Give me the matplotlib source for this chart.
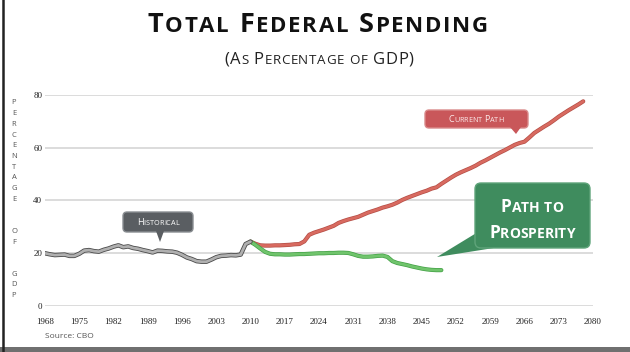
import matplotlib
matplotlib.use("Agg")
import matplotlib.pyplot as plt
from matplotlib import patheffects as pe
from matplotlib.lines import Line2D
from matplotlib.patches import FancyBboxPatch, Polygon, Rectangle
from matplotlib.transforms import Affine2D

# Values (% of GDP)
hist_years = list(range(1968, 2011))
hist_values = [20.0, 19.6, 19.3, 19.4, 19.5, 19.0, 19.0, 19.8, 21.0, 21.2,
               20.8, 20.6, 21.3, 21.8, 22.5, 23.0, 22.3, 22.6, 22.0, 21.7,
               21.2, 20.8, 20.3, 21.0, 20.9, 20.7, 20.6, 20.2, 19.4, 18.4,
               17.8, 17.0, 16.8, 16.8, 17.6, 18.5, 19.0, 19.1, 19.3, 19.2,
               19.5, 23.5, 24.4]

current_years = list(range(2010, 2079))
current_values = [24.4, 23.6, 23.0, 22.9, 22.9, 23.0, 23.0, 23.1, 23.2, 23.4,
                  23.5, 24.5, 27.0, 27.8, 28.4, 29.0, 29.7, 30.4, 31.5, 32.2,
                  32.8, 33.3, 33.8, 34.6, 35.4, 36.0, 36.6, 37.3, 37.8, 38.4,
                  39.2, 40.2, 41.0, 41.7, 42.4, 43.1, 43.7, 44.5, 45.0, 46.3,
                  47.5, 48.7, 49.8, 50.7, 51.5, 52.3, 53.2, 54.3, 55.2, 56.2,
                  57.2, 58.2, 59.1, 60.1, 61.1, 61.8, 62.3, 63.9, 65.6, 66.8,
                  68.0, 69.1, 70.4, 71.8, 73.0, 74.2, 75.3, 76.4, 77.6]

prosperity_years = list(range(2010, 2050))
prosperity_values = [24.4, 23.2, 21.8, 20.5, 19.8, 19.6, 19.6, 19.5, 19.5, 19.6,
                     19.7, 19.7, 19.8, 19.9, 20.0, 20.0, 20.1, 20.1, 20.2, 20.2,
                     20.1, 19.6, 19.0, 18.7, 18.7, 18.8, 19.0, 19.1, 18.6, 17.0,
                     16.3, 15.9, 15.5, 15.0, 14.6, 14.2, 13.9, 13.7, 13.6, 13.6]

x_ticks = list(range(1968, 2081, 7))
y_ticks = [0, 20, 40, 60, 80]

W, H = 630, 352
FONT = "Open Sans"

fig = plt.figure(figsize=(W / 100, H / 100), dpi=100)
fig.patch.set_facecolor("white")
# pixel coordinates measured from the top-left corner
PX = Affine2D().scale(1, -1).translate(0, H)
renderer = fig.canvas.get_renderer()


def text_width(t, size, weight):
    tmp = fig.text(0, 0, t + "I", fontsize=size, fontfamily=FONT, fontweight=weight)
    w1 = tmp.get_window_extent(renderer).width
    tmp.set_text("I")
    w0 = tmp.get_window_extent(renderer).width
    tmp.remove()
    return w1 - w0


def small_caps(x, y, s, size, color, weight="normal", ratio=0.8, tracking=0.0):
    """draw s in small caps, centred on x, with baseline at y (pixels)"""
    pieces = []
    for ch in s:
        sz = size * ratio if ch.islower() else size
        pieces.append((ch.upper(), sz, text_width(ch.upper(), sz, weight) + tracking))
    start = x - (sum(p[2] for p in pieces) - tracking) / 2
    for t, sz, w in pieces:
        if t != " ":
            fig.text(start, y, t, transform=PX, fontsize=sz, fontfamily=FONT,
                     fontweight=weight, color=color, ha="left", va="baseline")
        start += w


# frame of the screenshot
fig.add_artist(Line2D([2.5, 2.5], [0, H], transform=PX, color="#222222", lw=1.8))
fig.add_artist(Rectangle((0, 347), W, 5, transform=PX, color="#707070", lw=0))

ax = fig.add_axes([45 / W, 1 - 306 / H, (593 - 45) / W, (306 - 95) / H])
ax.set_xlim(1968, 2080)
ax.set_ylim(0, 80)
for s in ax.spines.values():
    s.set_visible(False)
ax.set_yticks(y_ticks)
ax.set_xticks(x_ticks)
ax.grid(axis="y", color="#d6d6d6", lw=1.2)
ax.set_axisbelow(True)
ax.tick_params(length=0, labelsize=6.5, labelcolor="#222222")
ax.tick_params(axis="x", pad=9)
ax.tick_params(axis="y", pad=2)
for lab in ax.get_xticklabels() + ax.get_yticklabels():
    lab.set_fontfamily("Liberation Serif")

# lines
ax.plot(current_years, current_values, color="#d86a60", lw=2.0, solid_capstyle="round",
        path_effects=[pe.Stroke(linewidth=3.0, foreground="#b44e46"), pe.Normal()])
ax.plot(prosperity_years, prosperity_values, color="#70c46c", lw=2.0, solid_capstyle="round",
        path_effects=[pe.Stroke(linewidth=3.0, foreground="#43a046"), pe.Normal()])
ax.plot(hist_years, hist_values, color="#b0b0b0", lw=2.0, solid_capstyle="round",
        path_effects=[pe.Stroke(linewidth=3.2, foreground="#4a4a4a"), pe.Normal()])

# titles
small_caps(318, 31.5, "Total Federal Spending", 19.5, "#111111", weight="bold",
           ratio=0.82, tracking=1.7)
small_caps(319, 64, "(As Percentage of GDP)", 12, "#222222", tracking=0.6)

# vertical axis label, one letter per line
ylab = "PERCENTAGE  OF  GDP"
for i, ch in enumerate(ylab):
    if ch != " ":
        fig.text(14, 103 + i * 10.7, ch, transform=PX, fontsize=5.5, fontfamily=FONT,
                 color="#555555", ha="center", va="center")

fig.text(45, 337, "Source: CBO", transform=PX, fontsize=6, fontfamily=FONT,
         color="#555555", ha="left", va="center")

# callouts
fig.add_artist(FancyBboxPatch((123, 212), 70, 20, boxstyle="round,pad=0,rounding_size=4",
                              transform=PX, fc="#5a5e62", ec="#8a8e92", lw=1))
fig.add_artist(Polygon([(156, 231), (164, 231), (160, 242)], transform=PX,
                       fc="#5a5e62", ec="none"))
small_caps(158, 225, "Historical", 6.5, "white")

fig.add_artist(FancyBboxPatch((425, 110), 103, 18, boxstyle="round,pad=0,rounding_size=4",
                              transform=PX, fc="#c9575a", ec="#d98a8a", lw=1))
fig.add_artist(Polygon([(510, 127), (521, 127), (516, 134)], transform=PX,
                       fc="#c9575a", ec="none"))
small_caps(476, 122.5, "Current Path", 6.5, "#fbeaea")

fig.add_artist(Polygon([(478, 232), (437, 257), (500, 247)], transform=PX,
                       fc="#3f8c5e", ec="none"))
fig.add_artist(FancyBboxPatch((475, 183), 115, 65, boxstyle="round,pad=0,rounding_size=6",
                              transform=PX, fc="#3f8c5e", ec="#5fa47a", lw=1))
small_caps(532, 212, "Path to", 12.5, "white", weight="bold")
small_caps(532, 238.5, "Prosperity", 12.5, "white", weight="bold")

fig.savefig("out.png", dpi=100)
